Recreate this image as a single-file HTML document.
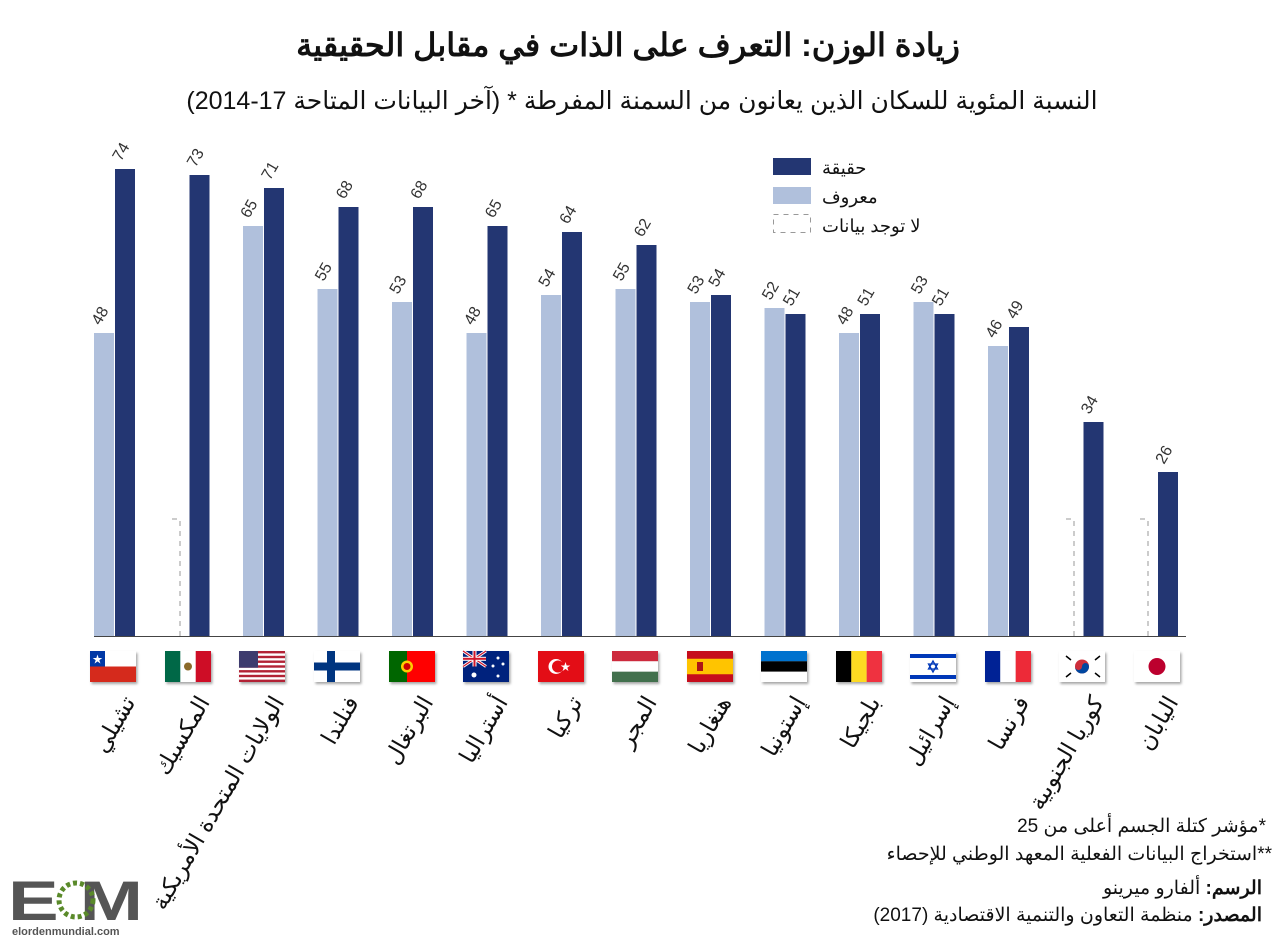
<!DOCTYPE html>
<html><head><meta charset="utf-8"><style>
body{margin:0;background:#fff;}
svg{display:block;font-family:"Liberation Sans","Noto Sans CJK SC",sans-serif;}
</style></head><body>
<svg width="1280" height="942" viewBox="0 0 1280 942">
<defs><filter id="sh" x="-10%" y="-10%" width="130%" height="140%"><feDropShadow dx="1.5" dy="2" stdDeviation="1.2" flood-color="#000" flood-opacity="0.35"/></filter></defs>
<text x="628" y="56" text-anchor="middle" font-size="32" font-weight="bold" fill="#111">زيادة الوزن: التعرف على الذات في مقابل الحقيقية</text>
<text x="642" y="109" text-anchor="middle" font-size="25" fill="#111">النسبة المئوية للسكان الذين يعانون من السمنة المفرطة * (آخر البيانات المتاحة 17-2014)</text>
<!-- legend -->
<rect x="773" y="158" width="38" height="17" fill="#233672"/>
<rect x="773" y="187" width="38" height="17" fill="#b0c0dc"/>
<rect x="773.5" y="214.5" width="37" height="18" fill="none" stroke="#999" stroke-dasharray="5,5"/>
<text x="822" y="174" font-size="18" fill="#111">حقيقة</text>
<text x="822" y="203" font-size="18" fill="#111">معروف</text>
<text x="822" y="232" font-size="18" fill="#111">لا توجد بيانات</text>
<!-- light bars -->
<g fill="#b0c0dc">
<rect x="94" y="333" width="20" height="303"/>
<rect x="243" y="226" width="20" height="410"/>
<rect x="317.5" y="289" width="20" height="347"/>
<rect x="392" y="302" width="20" height="334"/>
<rect x="466.5" y="333" width="20" height="303"/>
<rect x="541" y="295" width="20" height="341"/>
<rect x="615.5" y="289" width="20" height="347"/>
<rect x="690" y="302" width="20" height="334"/>
<rect x="764.5" y="308" width="20" height="328"/>
<rect x="839" y="333" width="20" height="303"/>
<rect x="913.5" y="302" width="20" height="334"/>
<rect x="988" y="346" width="20" height="290"/>
</g>
<g fill="none" stroke="#999" stroke-dasharray="5,5">
<path d="M180 636 V519 H172"/>
<path d="M1074 636 V519 H1066"/>
<path d="M1148 636 V519 H1140"/>
</g>
<!-- dark bars -->
<g fill="#233672">
<rect x="115" y="169" width="20" height="467"/>
<rect x="189.5" y="175" width="20" height="461"/>
<rect x="264" y="188" width="20" height="448"/>
<rect x="338.5" y="207" width="20" height="429"/>
<rect x="413" y="207" width="20" height="429"/>
<rect x="487.5" y="226" width="20" height="410"/>
<rect x="562" y="232" width="20" height="404"/>
<rect x="636.5" y="245" width="20" height="391"/>
<rect x="711" y="295" width="20" height="341"/>
<rect x="785.5" y="314" width="20" height="322"/>
<rect x="860" y="314" width="20" height="322"/>
<rect x="934.5" y="314" width="20" height="322"/>
<rect x="1009" y="327" width="20" height="309"/>
<rect x="1083.5" y="422" width="20" height="214"/>
<rect x="1158" y="472" width="20" height="164"/>
</g>
<line x1="94" y1="636.5" x2="1186" y2="636.5" stroke="#444" stroke-width="1"/>
<!-- value labels -->
<g font-size="16" fill="#333">
<text transform="translate(100,326) rotate(-60)">48</text>
<text transform="translate(121,162) rotate(-60)">74</text>
<text transform="translate(195.5,168) rotate(-60)">73</text>
<text transform="translate(249,219) rotate(-60)">65</text>
<text transform="translate(270,181) rotate(-60)">71</text>
<text transform="translate(323.5,282) rotate(-60)">55</text>
<text transform="translate(344.5,200) rotate(-60)">68</text>
<text transform="translate(398,295) rotate(-60)">53</text>
<text transform="translate(419,200) rotate(-60)">68</text>
<text transform="translate(472.5,326) rotate(-60)">48</text>
<text transform="translate(493.5,219) rotate(-60)">65</text>
<text transform="translate(547,288) rotate(-60)">54</text>
<text transform="translate(568,225) rotate(-60)">64</text>
<text transform="translate(621.5,282) rotate(-60)">55</text>
<text transform="translate(642.5,238) rotate(-60)">62</text>
<text transform="translate(696,295) rotate(-60)">53</text>
<text transform="translate(717,288) rotate(-60)">54</text>
<text transform="translate(770.5,301) rotate(-60)">52</text>
<text transform="translate(791.5,307) rotate(-60)">51</text>
<text transform="translate(845,326) rotate(-60)">48</text>
<text transform="translate(866,307) rotate(-60)">51</text>
<text transform="translate(919.5,295) rotate(-60)">53</text>
<text transform="translate(940.5,307) rotate(-60)">51</text>
<text transform="translate(994,339) rotate(-60)">46</text>
<text transform="translate(1015,320) rotate(-60)">49</text>
<text transform="translate(1089.5,415) rotate(-60)">34</text>
<text transform="translate(1164,465) rotate(-60)">26</text>
</g>
<!-- flags -->
<g filter="url(#sh)">
<g transform="translate(90,651)"><rect width="46" height="31" fill="#fff"/><rect y="15.5" width="46" height="15.5" fill="#d52b1e"/><rect width="15" height="15.5" fill="#0039a6"/><text x="7.5" y="12" font-size="10" fill="#fff" text-anchor="middle">★</text></g>
<g transform="translate(165,651)"><rect width="46" height="31" fill="#fff"/><rect width="15.3" height="31" fill="#006847"/><rect x="30.7" width="15.3" height="31" fill="#ce1126"/><circle cx="23" cy="15.5" r="4" fill="#8b6b2a"/></g>
<g transform="translate(239,651)"><rect width="46" height="31" fill="#fff"/>
<g fill="#b22234"><rect y="0" width="46" height="2.4"/><rect y="4.8" width="46" height="2.4"/><rect y="9.5" width="46" height="2.4"/><rect y="14.3" width="46" height="2.4"/><rect y="19.1" width="46" height="2.4"/><rect y="23.8" width="46" height="2.4"/><rect y="28.6" width="46" height="2.4"/></g>
<rect width="19" height="16.7" fill="#3c3b6e"/></g>
<g transform="translate(314,651)"><rect width="46" height="31" fill="#fff"/><rect x="13" width="8" height="31" fill="#003580"/><rect y="11.5" width="46" height="8" fill="#003580"/></g>
<g transform="translate(389,651)"><rect width="46" height="31" fill="#ff0000"/><rect width="18" height="31" fill="#006600"/><circle cx="18" cy="15.5" r="6" fill="#ffcc00"/><circle cx="18" cy="15.5" r="3.5" fill="#c00"/></g>
<g transform="translate(463,651)"><rect width="46" height="31" fill="#00247d"/><path d="M0 0L23 15.5M23 0L0 15.5" stroke="#fff" stroke-width="3"/><path d="M0 0L23 15.5M23 0L0 15.5" stroke="#cf142b" stroke-width="1.2"/><rect x="9.5" width="4" height="15.5" fill="#fff"/><rect y="5.8" width="23" height="4" fill="#fff"/><rect x="10.5" width="2" height="15.5" fill="#cf142b"/><rect y="6.8" width="23" height="2" fill="#cf142b"/><g fill="#fff"><circle cx="11" cy="24" r="2.5"/><circle cx="35" cy="7" r="1.5"/><circle cx="30" cy="15" r="1.5"/><circle cx="40" cy="13" r="1.5"/><circle cx="35" cy="25" r="1.5"/></g></g>
<g transform="translate(538,651)"><rect width="46" height="31" fill="#e30a17"/><circle cx="18" cy="15.5" r="7.5" fill="#fff"/><circle cx="20" cy="15.5" r="6" fill="#e30a17"/><text x="27.5" y="19.5" font-size="10" fill="#fff" text-anchor="middle">★</text></g>
<g transform="translate(612,651)"><rect width="46" height="10.3" fill="#cd2a3e"/><rect y="10.3" width="46" height="10.4" fill="#fff"/><rect y="20.7" width="46" height="10.3" fill="#436f4d"/></g>
<g transform="translate(687,651)"><rect width="46" height="31" fill="#c60b1e"/><rect y="7.75" width="46" height="15.5" fill="#ffc400"/><rect x="10" y="11" width="6" height="9" fill="#ad1519"/></g>
<g transform="translate(761,651)"><rect width="46" height="10.3" fill="#0072ce"/><rect y="10.3" width="46" height="10.4" fill="#000"/><rect y="20.7" width="46" height="10.3" fill="#fff"/></g>
<g transform="translate(836,651)"><rect width="15.3" height="31" fill="#000"/><rect x="15.3" width="15.4" height="31" fill="#fdda24"/><rect x="30.7" width="15.3" height="31" fill="#ef3340"/></g>
<g transform="translate(910,651)"><rect width="46" height="31" fill="#fff"/><rect y="3" width="46" height="4" fill="#0038b8"/><rect y="24" width="46" height="4" fill="#0038b8"/><path d="M23 10L27.5 18H18.5ZM23 21L18.5 13H27.5Z" fill="none" stroke="#0038b8" stroke-width="1.3"/></g>
<g transform="translate(985,651)"><rect width="15.3" height="31" fill="#002395"/><rect x="15.3" width="15.4" height="31" fill="#fff"/><rect x="30.7" width="15.3" height="31" fill="#ed2939"/></g>
<g transform="translate(1059,651)"><rect width="46" height="31" fill="#fff"/><circle cx="23" cy="15.5" r="7" fill="#cd2e3a"/><path d="M16 15.5A7 7 0 0 0 30 15.5A3.5 3.5 0 0 0 23 15.5A3.5 3.5 0 0 1 16 15.5Z" fill="#0047a0"/><g stroke="#000" stroke-width="1.5"><path d="M7 5L12 9M36 22L41 26M7 26L12 22M36 9L41 5"/></g></g>
<g transform="translate(1134,651)"><rect width="46" height="31" fill="#fff"/><circle cx="23" cy="15.5" r="8.5" fill="#bc002d"/></g>
</g>
<!-- country labels -->
<g font-size="23" fill="#111" text-anchor="end">
<text transform="translate(136,702) rotate(-60)">تشيلي</text>
<text transform="translate(210.5,702) rotate(-60)">المكسيك</text>
<text transform="translate(285,702) rotate(-60)">الولايات المتحدة الأمريكية</text>
<text transform="translate(359.5,702) rotate(-60)">فنلندا</text>
<text transform="translate(434,702) rotate(-60)">البرتغال</text>
<text transform="translate(508.5,702) rotate(-60)">أستراليا</text>
<text transform="translate(583,702) rotate(-60)">تركيا</text>
<text transform="translate(657.5,702) rotate(-60)">المجر</text>
<text transform="translate(732,702) rotate(-60)">هنغاريا</text>
<text transform="translate(806.5,702) rotate(-60)">إستونيا</text>
<text transform="translate(881,702) rotate(-60)">بلجيكا</text>
<text transform="translate(955.5,702) rotate(-60)">إسرائيل</text>
<text transform="translate(1030,702) rotate(-60)">فرنسا</text>
<text transform="translate(1104.5,702) rotate(-60)">كوريا الجنوبية</text>
<text transform="translate(1179,702) rotate(-60)">اليابان</text>
</g>
<!-- footnotes -->
<g font-size="19" fill="#111">
<text x="1266" y="832" direction="rtl" text-anchor="start">*مؤشر كتلة الجسم أعلى من 25</text>
<text x="1272" y="860" direction="rtl" text-anchor="start">**استخراج البيانات الفعلية المعهد الوطني للإحصاء</text>
<text x="1262" y="894" direction="rtl" text-anchor="start"><tspan font-weight="bold">الرسم:</tspan> ألفارو ميرينو</text>
<text x="1262" y="921" direction="rtl" text-anchor="start"><tspan font-weight="bold">المصدر:</tspan> منظمة التعاون والتنمية الاقتصادية (2017)</text>
</g>
<!-- logo -->
<g>
<text x="8" y="920" font-size="56" font-weight="bold" fill="#555" textLength="135" lengthAdjust="spacingAndGlyphs">E  M</text>
<circle cx="76" cy="900" r="17" fill="none" stroke="#5a8a2a" stroke-width="5" stroke-dasharray="4,3"/>
<text x="12" y="935" font-size="11" font-weight="bold" fill="#555">elordenmundial.com</text>
</g>
</svg>
</body></html>
